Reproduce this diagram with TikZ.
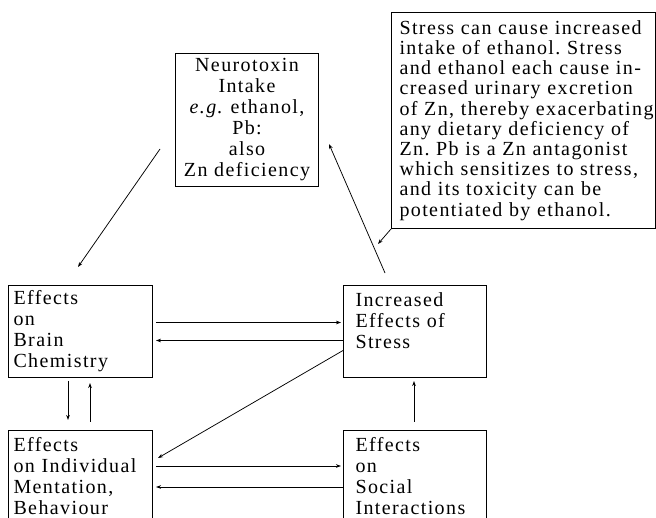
\documentclass[tikz,border=0pt]{standalone}
\usepackage{fontspec}
\setmainfont{Liberation Serif}[LetterSpace=7]
\usetikzlibrary{arrows.meta,calc}
\newcommand{\cl}[1]{\mbox{#1}}
\frenchspacing
\begin{document}
\begin{tikzpicture}[x=1pt,y=-1pt,
  box/.style={draw, line width=1pt, inner ysep=0pt, anchor=north west, align=left,
    font=\fontsize{20}{21}\selectfont},
  arr/.style={-{Stealth[length=5pt,width=3.6pt]}, line width=0.75pt}]
\useasboundingbox (0,0) rectangle (656,518);
\clip (0,0) rectangle (656,518);

% boxes
\node[box, align=center, inner xsep=0pt, text width=143pt, minimum height=133pt] (top) at (175,53)
  {Neurotoxin\hspace*{12pt}\\Intake\hspace*{40pt}\\\textit{e.g.} ethanol,\hspace*{20pt}\\Pb:\hspace*{34pt}\\also\hspace*{16pt}\\Zn deficiency};
\node[box, inner xsep=8pt, text width=248pt, minimum height=216pt,
  font=\fontsize{20}{20.2}\selectfont] (note) at (391,12)
  {\cl{Stress can cause increased}\\\cl{intake of ethanol. Stress}\\\cl{and ethanol each cause in-}\\\cl{creased urinary excretion}\\\cl{of Zn, thereby exacerbating}\\\cl{any dietary deficiency of}\\\cl{Zn. Pb is a Zn antagonist}\\\cl{which sensitizes to stress,}\\\cl{and its toxicity can be}\\\cl{potentiated by ethanol.}};
\node[box, inner xsep=5pt, text width=134pt, minimum height=92pt] (brain) at (8,285)
  {Effects\\on\\Brain\\Chemistry};
\node[box, inner xsep=12pt, text width=119pt, minimum height=92pt] (stress) at (343,285)
  {Increased\\Effects of\\Stress\\\mbox{}};
\node[box, inner xsep=5pt, text width=134pt, minimum height=92pt] (indiv) at (8,430)
  {Effects\\on Individual\\Mentation,\\Behaviour};
\node[box, inner xsep=12pt, text width=119pt, minimum height=92pt] (social) at (343,430)
  {Effects\\on\\Social\\Interactions};

% free ends
\coordinate (topout) at (160,149);
\coordinate (brainin) at (78,267);
\coordinate (stressout) at (385,273);
\coordinate (topin) at (329,144);
\coordinate (notetip) at (378,244);

\draw[arr] (topout) -- (brainin);
\draw[arr] (stressout) -- (topin);
\draw[arr] (note.south west) -- (notetip);

\draw[arr] ($(brain.east)+(3,-9)$) -- ($(stress.west)+(-2,-9)$);
\draw[arr] ($(stress.west)+(0,9)$) -- ($(brain.east)+(3,9)$);
\draw[arr] ($(stress.west)+(0,19)$) -- ($(indiv.north east)+(5,28)$);

\draw[arr] ($(indiv.north east)+(3,36)$) -- ($(social.north west)+(-2,36)$);
\draw[arr] ($(social.north west)+(0,57)$) -- ($(indiv.north east)+(3,57)$);

\draw[arr] ($(brain.south west)+(60,3)$) -- ($(indiv.north west)+(60,-10)$);
\draw[arr] ($(indiv.north west)+(82,-8)$) -- ($(brain.south west)+(82,5)$);
\draw[arr] ($(social.north west)+(71,-8)$) -- ($(stress.south west)+(71,3)$);
\end{tikzpicture}
\end{document}
